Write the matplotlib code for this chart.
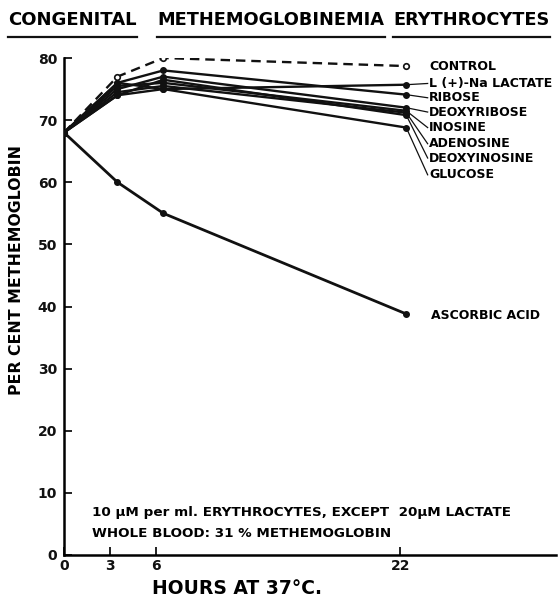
import numpy as np
import matplotlib
matplotlib.use('Agg')
import matplotlib.pyplot as plt

# sampling times (hours at 37 C)
hours = [0, 3.5, 6.5, 22.4]

# per cent methemoglobin
control = [68, 77, 80, 78.7]
lactate = [68, 74, 75, 75.7]
ribose = [68, 76, 78, 74.1]
deoxyribose = [68, 75, 77, 72]
inosine = [68, 75.5, 76, 71.5]
adenosine = [68, 74.5, 75.5, 71.2]
deoxyinosine = [68, 74, 76.5, 70.8]
glucose = [68, 76, 75, 68.8]
ascorbic = [68, 60, 55, 38.8]

series_names = ['L (+)-Na LACTATE', 'RIBOSE', 'DEOXYRIBOSE', 'INOSINE',
                'ADENOSINE', 'DEOXYINOSINE', 'GLUCOSE']
series_vals = [lactate, ribose, deoxyribose, inosine, adenosine, deoxyinosine, glucose]

x_ticks = [0, 3, 6, 22]
y_ticks = [0, 10, 20, 30, 40, 50, 60, 70, 80]

W, H = 558, 600
fig = plt.figure(figsize=(W/100, H/100), dpi=100)
ax = fig.add_axes([64/W, 45/H, (556-64)/W, (555-58)/H])
ax.set_xlim(0, 32.2)
ax.set_ylim(0, 80)

ink = '#111111'
ax.plot(hours, control, color=ink, lw=1.7, ls=(0, (4, 2.5)), marker='o', ms=4,
        mfc='white', mec=ink, mew=1.2, zorder=3)
for vals in series_vals:
    ax.plot(hours, vals, color=ink, lw=1.7, marker='o', ms=4, mfc=ink, mec=ink, zorder=3)
ax.plot(hours, ascorbic, color=ink, lw=2.0, marker='o', ms=4, mfc=ink, mec=ink, zorder=3)

# labels at the right end, with leader lines
lab_x = 23.9
lab_y = [75.9, 73.6, 71.3, 68.8, 66.2, 63.9, 61.2]
ax.text(lab_x, 78.7, 'CONTROL', fontsize=9, fontweight='bold', va='center', ha='left')
for name, vals, ly in zip(series_names, series_vals, lab_y):
    ax.plot([hours[-1], lab_x - 0.1], [vals[-1], ly], color=ink, lw=0.9)
    ax.text(lab_x, ly, name, fontsize=9, fontweight='bold', va='center', ha='left')
ax.text(24.0, 38.6, 'ASCORBIC ACID', fontsize=9, fontweight='bold', va='center', ha='left')

ax.text(1.8, 6.9, '10 μM per ml. ERYTHROCYTES, EXCEPT  20μM LACTATE',
        fontsize=9.7, fontweight='bold', va='center')
ax.text(1.8, 3.4, 'WHOLE BLOOD: 31 % METHEMOGLOBIN', fontsize=9.7, fontweight='bold', va='center')

for s in ['top', 'right']:
    ax.spines[s].set_visible(False)
ax.spines['left'].set_linewidth(1.8)
ax.spines['bottom'].set_linewidth(1.8)
ax.set_xticks(x_ticks)
ax.set_yticks(y_ticks)
ax.tick_params(axis='both', direction='in', length=6, width=1.3, labelsize=10, colors=ink)
for lbl in ax.get_xticklabels() + ax.get_yticklabels():
    lbl.set_fontweight('bold')
ax.tick_params(axis='y', pad=5)
ax.tick_params(axis='x', pad=3)

ax.set_ylabel('PER CENT METHEMOGLOBIN', fontsize=11.3, fontweight='bold')
ax.yaxis.set_label_coords((24-64)/492, (555-270)/497)
fig.text(237/W, 1 - 588/H, 'HOURS AT 37°C.', fontsize=13.5, fontweight='bold',
         ha='center', va='center')

# title, each word underlined and fitted to its span
title_words = ['CONGENITAL', 'METHEMOGLOBINEMIA', 'ERYTHROCYTES']
title_span = [(8, 137), (157, 385), (393, 550)]
renderer = fig.canvas.get_renderer()
for w, (x0, x1) in zip(title_words, title_span):
    t = fig.text(x0/W, 1 - 20/H, w, fontsize=14, fontweight='bold', ha='left', va='center')
    bb = t.get_window_extent(renderer)
    t.set_fontsize(14 * (x1 - x0) / bb.width)
    fig.add_artist(plt.Line2D([x0/W, x1/W], [1 - 37/H, 1 - 37/H],
                              transform=fig.transFigure, color=ink, lw=1.6))

fig.savefig('out.png', dpi=100)
